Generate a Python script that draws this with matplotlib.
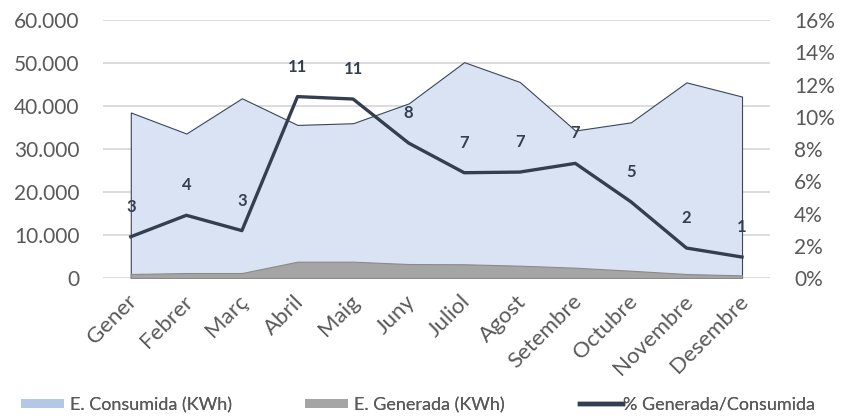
import matplotlib
matplotlib.use("Agg")
import matplotlib.pyplot as plt
import matplotlib.transforms as mtransforms
from matplotlib.patches import Patch
from matplotlib.lines import Line2D
from matplotlib.ticker import FuncFormatter, MultipleLocator

months = ["Gener", "Febrer", "Març", "Abril", "Maig", "Juny", "Juliol",
          "Agost", "Setembre", "Octubre", "Novembre", "Desembre"]
consumida = [38500, 33600, 41800, 35600, 36000, 40600, 50200, 45600, 34300, 36200, 45500, 42200]
generada = [930, 1160, 1160, 3800, 3800, 3250, 3200, 2870, 2400, 1700, 930, 620]
pct = [2.56, 3.89, 2.94, 11.25, 11.10, 8.37, 6.53, 6.57, 7.11, 4.73, 1.86, 1.30]
pct_labels = ["3", "4", "3", "11", "11", "8", "7", "7", "7", "5", "2", "1"]

plt.rcParams['font.family'] = ['Lato', 'DejaVu Sans']

fig = plt.figure(figsize=(8.45, 4.17), dpi=100)
ax = fig.add_axes([0.1219, 0.3333, 0.911 - 0.1219, 0.952 - 0.3333])
x = list(range(len(months)))

ax.fill_between(x, 0, consumida, facecolor="#dae3f3", edgecolor="#3b4658",
                linewidth=0.8, zorder=2)
ax.fill_between(x, 0, generada, facecolor="#a5a5a5", edgecolor="#8a8a8a",
                linewidth=0.8, zorder=3)

ax.set_xlim(-0.5, 11.5)
ax.set_ylim(0, 60000)
ax.yaxis.set_major_locator(MultipleLocator(10000))
ax.yaxis.set_major_formatter(FuncFormatter(lambda v, p: f"{int(v):,}".replace(",", ".")))
ax.grid(axis="y", color="#d9d9d9", linewidth=1.3, zorder=0)
ax.set_axisbelow(True)
for s in ax.spines.values():
    s.set_visible(False)
ax.tick_params(axis="both", length=0, colors="#595959", labelsize=15)
ax.tick_params(axis="y", pad=17)
ax.set_xticks(x)
ax.set_xticklabels([])

label_tr = mtransforms.blended_transform_factory(ax.transData, ax.transAxes) + \
    mtransforms.ScaledTranslation(-2.9 / 72, -9.6 / 72, fig.dpi_scale_trans)
for xi, m in zip(x, months):
    ax.text(xi, 0, m, transform=label_tr, rotation=45, ha="right", va="top",
            rotation_mode="anchor", fontsize=16, color="#595959", clip_on=False)

ax2 = ax.twinx()
ax2.set_ylim(0, 16)
ax2.yaxis.set_major_locator(MultipleLocator(2))
ax2.yaxis.set_major_formatter(FuncFormatter(lambda v, p: f"{int(v)}%"))
for s in ax2.spines.values():
    s.set_visible(False)
ax2.tick_params(axis="y", length=0, colors="#595959", labelsize=15, pad=17.5)
ax2.plot(x, pct, color="#333f50", linewidth=2.4, zorder=5)
for xi, yi, lab in zip(x, pct, pct_labels):
    ax2.annotate(lab, (xi, yi), xytext=(0, 21.6), textcoords="offset points",
                 ha="center", va="center", fontsize=12, fontweight="bold",
                 color="#333f50")

entries = [
    (Patch(facecolor="#b4c7e7", edgecolor="none"), "E. Consumida (KWh)", 21, 0.3),
    (Patch(facecolor="#a5a5a5", edgecolor="none"), "E. Generada (KWh)", 305, 0.3),
    (Line2D([0], [0], color="#333f50", linewidth=3.2), "% Generada/Consumida", 580, 0.0),
]
for h, lab, px, gap in entries:
    leg = fig.legend([h], [lab], loc="center left",
                     bbox_to_anchor=(px / 845, 1 - 405 / 417),
                     frameon=False, fontsize=13, handlelength=2.4, handleheight=0.45,
                     handletextpad=gap, borderpad=0, borderaxespad=0,
                     labelcolor="#595959")
    fig.add_artist(leg)

fig.savefig("out.png", dpi=100)
